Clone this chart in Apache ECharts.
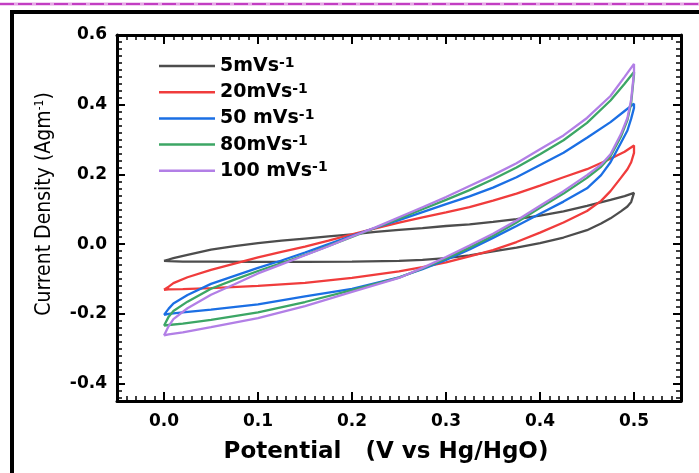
<!DOCTYPE html>
<html>
<head>
<meta charset="utf-8">
<script src="https://cdn.jsdelivr.net/npm/echarts@6/dist/echarts.min.js"></script>
<style>
html,body{margin:0;padding:0;background:#fff;}
#chart{width:699px;height:473px;}
</style>
</head>
<body>
<div id="chart"></div>
<script>
// ---- data ----
const seriesNames = ['5mVs-1', '20mVs-1', '50 mVs-1', '80mVs-1', '100 mVs-1'];
const seriesColors = ['#4d4d4d', '#f03c3c', '#1b6fe4', '#3ca665', '#b27fe6'];

// potential (V) for the forward (upper) and reverse (lower) sweeps
const upperX = [0, 0.005, 0.01, 0.025, 0.05, 0.075, 0.1, 0.125, 0.15, 0.175, 0.2, 0.225, 0.25, 0.275, 0.3, 0.325, 0.35, 0.375, 0.4, 0.425, 0.45, 0.475, 0.49, 0.5];
const lowerX = [0.5, 0.497, 0.493, 0.486, 0.475, 0.465, 0.45, 0.425, 0.4, 0.375, 0.35, 0.325, 0.3, 0.275, 0.25, 0.2, 0.15, 0.1, 0.05, 0.02, 0.005, 0];

// current density (A/g)
const up5   = [-0.048, -0.044, -0.040, -0.031, -0.016, -0.006, 0.003, 0.010, 0.016, 0.022, 0.028, 0.035, 0.041, 0.046, 0.052, 0.057, 0.064, 0.072, 0.082, 0.094, 0.110, 0.127, 0.138, 0.147];
const low5  = [0.145, 0.121, 0.108, 0.094, 0.074, 0.059, 0.040, 0.019, 0.003, -0.010, -0.021, -0.032, -0.040, -0.045, -0.048, -0.050, -0.051, -0.051, -0.050, -0.050, -0.049, -0.048];
const up20  = [-0.131, -0.122, -0.112, -0.095, -0.074, -0.056, -0.038, -0.022, -0.007, 0.010, 0.028, 0.045, 0.062, 0.077, 0.091, 0.106, 0.125, 0.145, 0.168, 0.192, 0.215, 0.245, 0.265, 0.283];
const low20 = [0.262, 0.235, 0.215, 0.190, 0.152, 0.124, 0.095, 0.062, 0.033, 0.006, -0.017, -0.035, -0.052, -0.066, -0.078, -0.097, -0.111, -0.120, -0.126, -0.129, -0.130, -0.131];
const up50  = [-0.203, -0.185, -0.170, -0.146, -0.114, -0.091, -0.068, -0.047, -0.024, 0.000, 0.024, 0.047, 0.069, 0.092, 0.115, 0.137, 0.162, 0.192, 0.227, 0.262, 0.305, 0.350, 0.382, 0.403];
const low50 = [0.391, 0.360, 0.326, 0.290, 0.235, 0.198, 0.160, 0.122, 0.087, 0.052, 0.018, -0.015, -0.045, -0.072, -0.095, -0.128, -0.150, -0.173, -0.188, -0.196, -0.200, -0.203];
const up80  = [-0.234, -0.208, -0.192, -0.165, -0.128, -0.102, -0.077, -0.054, -0.031, -0.005, 0.021, 0.047, 0.073, 0.100, 0.127, 0.155, 0.186, 0.220, 0.258, 0.298, 0.348, 0.412, 0.460, 0.494];
const low80 = [0.486, 0.405, 0.356, 0.308, 0.252, 0.222, 0.190, 0.145, 0.104, 0.062, 0.024, -0.010, -0.041, -0.070, -0.096, -0.132, -0.166, -0.196, -0.217, -0.228, -0.232, -0.234];
const up100 = [-0.262, -0.235, -0.215, -0.184, -0.145, -0.115, -0.084, -0.058, -0.032, -0.006, 0.022, 0.048, 0.077, 0.106, 0.135, 0.167, 0.198, 0.232, 0.272, 0.312, 0.362, 0.425, 0.480, 0.517];
const low100= [0.492, 0.415, 0.362, 0.315, 0.258, 0.228, 0.198, 0.152, 0.110, 0.068, 0.030, -0.004, -0.037, -0.068, -0.097, -0.137, -0.178, -0.212, -0.238, -0.253, -0.259, -0.262];

const upperSets = [up5, up20, up50, up80, up100];
const lowerSets = [low5, low20, low50, low80, low100];

// axis ranges and steps
const xRange = [-0.05, 0.55];
const yRange = [-0.45, 0.6];
const xMajorStep = 0.1, xMinorStep = 0.01;
const yMajorStep = 0.2, yMinorStep = 0.02;
const yMinorMin = -0.44; // first minor-tick value (multiple of the minor step)

// ---- layout (pixels) ----
const G = {left: 117, right: 18, top: 35, bottom: 72};
const H = 473;
const pxPerY = (H - G.top - G.bottom) / (yRange[1] - yRange[0]);
const gMinorY = {left: G.left, right: G.right, top: G.top,
  bottom: H - (G.top + (yRange[1] - yMinorMin) * pxPerY)};

// ---- chart ----
const chart = echarts.init(document.getElementById('chart'), null, {renderer: 'canvas'});
const labelFont = 'DejaVu Sans';
const fmt = v => Number(v).toFixed(1);

function mainX(pos, withLabels) {
  return {
    type: 'value', gridIndex: 0, position: pos, min: xRange[0], max: xRange[1], splitNumber: 6,
    axisLine: {show: true, onZero: false, lineStyle: {color: '#000', width: 3}},
    axisTick: {show: true, inside: true, length: 9, lineStyle: {color: '#000', width: 2}},
    axisLabel: {show: withLabels, showMinLabel: false, showMaxLabel: false, formatter: fmt, margin: 12,
      fontFamily: labelFont, fontWeight: 'bold', fontSize: 17, color: '#000'},
    splitLine: {show: false}
  };
}
function mainY(pos, withLabels) {
  return {
    type: 'value', gridIndex: 0, position: pos, min: yRange[0], max: yRange[1], splitNumber: 5,
    axisLine: {show: true, onZero: false, lineStyle: {color: '#000', width: 3}},
    axisTick: {show: true, inside: true, length: 8, lineStyle: {color: '#000', width: 2}},
    axisLabel: {show: withLabels, showMinLabel: false, formatter: fmt, margin: 10,
      fontFamily: labelFont, fontWeight: 'bold', fontSize: 17, color: '#000'},
    splitLine: {show: false}
  };
}
function minorX(pos) {
  return {
    type: 'value', gridIndex: 1, position: pos, min: xRange[0], max: xRange[1], interval: xMinorStep,
    axisLine: {show: false, onZero: false},
    axisTick: {show: true, inside: true, length: 5, lineStyle: {color: '#000', width: 1.5}},
    axisLabel: {show: false}, splitLine: {show: false}
  };
}
function minorY(pos) {
  return {
    type: 'value', gridIndex: 2, position: pos, min: yMinorMin, max: yRange[1], interval: yMinorStep,
    axisLine: {show: false, onZero: false},
    axisTick: {show: true, inside: true, length: 5, lineStyle: {color: '#000', width: 1.5}},
    axisLabel: {show: false}, splitLine: {show: false}
  };
}
const hiddenX = gi => ({type: 'value', gridIndex: gi, show: false, min: 0, max: 1});
const hiddenY = gi => ({type: 'value', gridIndex: gi, show: false, min: 0, max: 1});

const xBottom = mainX('bottom', true);
xBottom.name = 'Potential   (V vs Hg/HgO)';
xBottom.nameLocation = 'middle';
xBottom.nameGap = 40;
xBottom.nameTextStyle = {fontFamily: labelFont, fontWeight: 'bold', fontSize: 23, color: '#000', padding: [0, 26, 0, 0]};

const yLeft = mainY('left', true);
yLeft.name = 'Current Density (Agm{s|-1})';
yLeft.nameLocation = 'middle';
yLeft.nameRotate = 90;
yLeft.nameGap = 62;
yLeft.nameTextStyle = {
  fontFamily: "'Liberation Sans Narrow', 'DejaVu Sans Condensed', 'Liberation Sans'",
  fontSize: 21, color: '#000', padding: [0, 0, 0, 28],
  rich: {s: {fontFamily: "'Liberation Sans Narrow', 'DejaVu Sans Condensed', 'Liberation Sans'", fontSize: 12, color: '#000', verticalAlign: 'top'}}
};

const series = seriesNames.map((name, i) => ({
  name: name,
  type: 'line',
  xAxisIndex: 0, yAxisIndex: 0,
  data: upperX.map((x, j) => [x, upperSets[i][j]]).concat(lowerX.map((x, j) => [x, lowerSets[i][j]])),
  symbol: 'none', showSymbol: false,
  lineStyle: {color: seriesColors[i], width: 2.3},
  itemStyle: {color: seriesColors[i]},
  smooth: false, z: 2 + i
}));

chart.setOption({
  animation: false,
  backgroundColor: '#fff',
  grid: [
    Object.assign({containLabel: false}, G),
    Object.assign({containLabel: false}, G),
    Object.assign({containLabel: false}, gMinorY)
  ],
  xAxis: [xBottom, mainX('top', false), minorX('bottom'), minorX('top'), hiddenX(2)],
  yAxis: [yLeft, mainY('right', false), hiddenY(1), minorY('left'), minorY('right')],
  legend: {
    orient: 'vertical', left: 154, top: 51,
    icon: 'rect',
    itemWidth: 56, itemHeight: 2.5, itemGap: 6.7,
    selectedMode: false,
    formatter: n => '{t|' + n.replace(/-1$/, '') + '}{s|-1}',
    textStyle: {
      color: '#000',
      rich: {
        t: {fontFamily: labelFont, fontWeight: 'bold', fontSize: 19, lineHeight: 20, color: '#000'},
        s: {fontFamily: labelFont, fontWeight: 'bold', fontSize: 14, color: '#000', verticalAlign: 'top'}
      }
    },
    data: seriesNames
  },
  graphic: [
    {type: 'line', silent: true, shape: {x1: 0, y1: 4, x2: 699, y2: 4}, style: {stroke: '#e6a6e6', lineWidth: 3}},
    {type: 'line', silent: true, shape: {x1: 0, y1: 4, x2: 699, y2: 4}, style: {stroke: '#c23ec2', lineWidth: 2, lineDash: [14, 4]}},
    {type: 'rect', silent: true, shape: {x: 12, y: 12, width: 760, height: 540}, style: {fill: 'transparent', stroke: '#000', lineWidth: 4}}
  ],
  series: series
});
</script>
</body>
</html>
